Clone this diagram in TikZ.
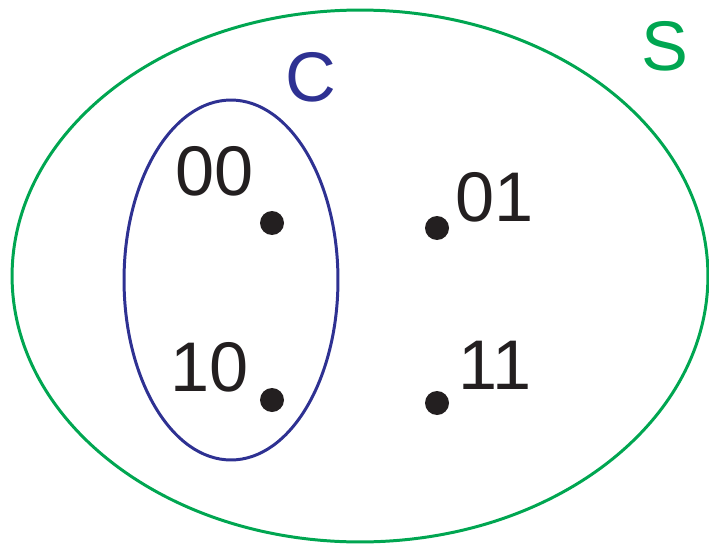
\documentclass[tikz,border=0pt]{standalone}
\usepackage{fontspec}
\setmainfont{Liberation Sans}
\usepackage{tikz}
\definecolor{setGreen}{RGB}{0, 166, 81}
\definecolor{setBlue}{RGB}{46, 49, 146}
\definecolor{dotBlack}{RGB}{35, 31, 32}

\begin{document}
\begin{tikzpicture}[x=0.02cm, y=-0.02cm,
    elem/.style={circle, fill=dotBlack, inner sep=0pt, minimum size=0.48cm},
    lbl/.style={inner sep=0pt, font=\fontsize{40}{40}\selectfont, text=dotBlack}]
        \useasboundingbox (0,0) rectangle (709,544);
        \draw[setGreen, line width=1.7pt] (360,276) ellipse [x radius=6.96cm, y radius=5.32cm];
        \draw[setBlue, line width=1.7pt] (231,280) ellipse [x radius=2.14cm, y radius=3.6cm];
        \node[lbl, text=setGreen] (S) at (665,46) {S};
        \node[lbl, text=setBlue] (C) at (311,77) {C};
        \node[elem] (e00) at (272,223) {};
        \node[elem] (e01) at (437,228) {};
        \node[elem] (e10) at (272,400) {};
        \node[elem] (e11) at (437,403) {};
        \node[lbl] (l00) at (215,171) {00};
        \node[lbl] (l01) at (495,197) {01};
        \node[lbl] (l10) at (210,367) {10};
        \node[lbl] (l11) at (495,365) {11};
      \end{tikzpicture}
\end{document}
